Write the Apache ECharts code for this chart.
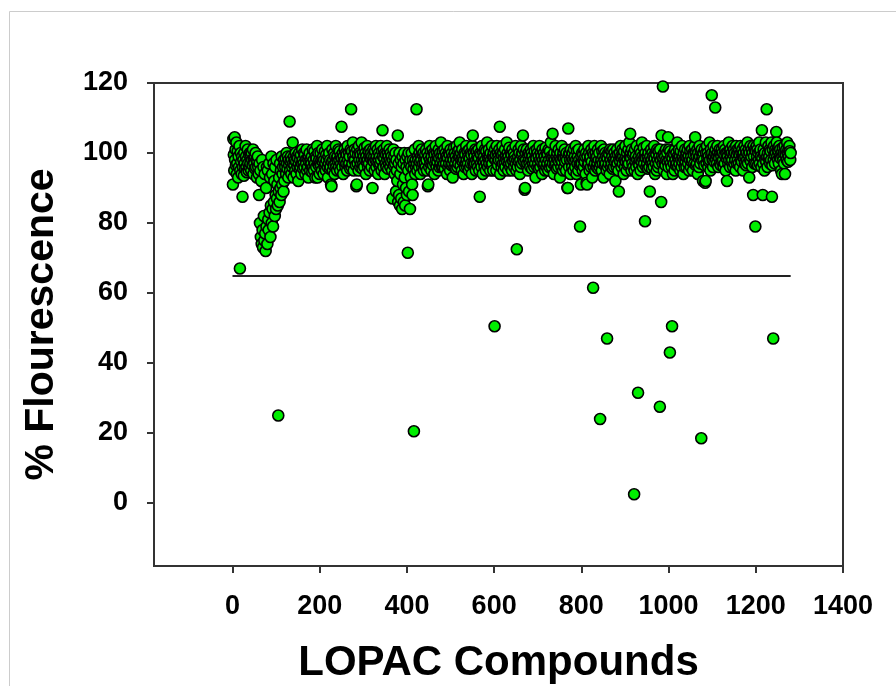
<!DOCTYPE html>
<html>
<head>
<meta charset="utf-8">
<script src="https://cdn.jsdelivr.net/npm/echarts@6/dist/echarts.min.js"></script>
<style>
html,body{margin:0;padding:0;background:#fff;}
#chart{width:896px;height:686px;}
</style>
</head>
<body>
<div id="chart"></div>
<script>
// % fluorescence for each LOPAC compound (index 1..1280)
const bandValues = [
97,104,99.5,95,92,98,101,96.5,103,94,97,100.5,93,99,96,102,98.5,95,100,97.5,94,99,101.5,96,98,93.5,100,97,95.5,102,99,96,94.5,98,101,97,95,99.5,96,100,
97,99.5,95,100,98,96.5,101,94,98.5,97,99,95.5,100,96,98,93,97.5,99,96,94,88,97,80,95,76,92,74,98,78,73,96,82,75,94,77,72,90,79,96,74,
95,81,78,97,83,93,76,85,99,80,94,84,79,97,86,92,82,96,88,84,98,87,91,85,96,89,93,86,97,90,95,88,99,91,94,96,89,98,92,97,
96,98.5,94,100,97,95.5,99,93,98,96.5,101,95,97.5,99,94,98,96,100.5,97,93,99,96.5,98,95,100,97.5,94,99,96,98.5,92,97,100,95.5,98,96,99.5,94,97,101,
98,95.5,97,100,96,99.5,94,98,97,101,95,98.5,96,93,99,97.5,100,95,98,96.5,97,99,94.5,101,96,98,95,100.5,97,93,99,96,98.5,102,95,97,100,96.5,98,94,
97,100,96.5,98,95,101,97.5,99,94,98,96,100.5,97,95,99.5,98,102,96,93,99,97,100,95.5,98,96,91,99,97.5,101,95,98,96.5,100,94,99,97,102,96,98.5,95,
99,97.5,101,96,98,100.5,95,99,97,102,98.5,96,100,94,99,97.5,101,98,96,100,97,99.5,95,102,98,96.5,100,97,99,95.5,101,98,96,100.5,97,103,99,95,98,101,
98,100,96.5,99,91,101,97,99.5,95,102,98,100,96,99.5,97,103,98,95.5,100,97,99,96,101.5,98,100,94,99,97.5,102,98,96,100.5,97,99,95,101,98.5,100,96,99,
90,98,101,97.5,99,95,100.5,98,102,96,99,97.5,101,94,98,100,96.5,99,97,102,98,95,100.5,97,99,96,101,98.5,94,100,97,99.5,96,102,98,100,95.5,99,97,101,
98,96,100,97.5,99,95,87,98,101,96.5,99,94,97,100,89,98,95,92,99,86,97,88,100,85,94,98,87,96,84,99,91,97,86,100,93,85,98,90,96,88,
99,87,95,100,89,97,84,98,93,96,100,91,88,98,95.5,99,97,101,94,98,96,100.5,97,95,99,98,102,96,100,97.5,94,99,98,101,96,99.5,97,100,95,98,
97,99.5,96,101,98,95,100,97.5,91,99,96,102,98,97,100.5,95,99,97,101,96.5,98,100,94,99.5,97,102,98,96,100,97.5,99,95,101,98.5,96,100,97,103,99,96,
98,100.5,96,99,97,101,95.5,98,100,97,99,94,102,98.5,96,100,97,99.5,95,101,98,96.5,100,97,93,99,98,101.5,96,100,97,99,95.5,102,98,96,100.5,97,99,101,
97,99,96.5,100,98,95,101,97.5,99,94,98,100,96,99.5,97,102,98,96,100.5,97,99,95,101,98.5,96,100,97,99.5,94,102,98,97,100,96.5,99,97,101,95,98,100.5,
97,99,96,101,98.5,95,88,100,97,99.5,96,102,98,94,100,97.5,99,96,101,98,95,100.5,97,103,99,96,98.5,101,97,99,95,100,98,96.5,102,97,99,95,100,98.5,
96,101,98,99.5,95,102,97,100,96.5,99,98,101,97.5,94,100,98,96,99.5,102,97,100,95,98.5,97,101,96,99,98,103,97.5,100,95,99,97,101.5,98,96,100,97,99.5,
95,101,98,97.5,100,96,99,98,102,97,95,100.5,98,96,99,101,97.5,100,94,98,96,102,99.5,97,100,95,98,101,97.5,99,90,100,98,96.5,101,97,99.5,95,100,98,
97,99.5,96,101,98,100,95.5,99,97,102,98,96,100.5,97,93,99,98.5,101,96,100,97,99,95.5,102,98,96,100,97.5,99,94,101,98,96.5,100,97,99,95,101.5,98,96,
100,97,99.5,95,101,98,96,100.5,97,103,99,96,98.5,101,97,99,94,100,98,96.5,102,97,99,95.5,100,98,96,101,97.5,99,93,100,98,96,102,97.5,99,95,100,98.5,
96,101,97.5,99,95,100,98,90,102,97,99.5,96,100,98,94,101,97.5,99,96,100,98,95,101,97.5,99,96,102,98,94,100.5,97,99,95,101,98,96.5,100,97,91,99,
97,100,95,99.5,98,96,101,97.5,99,94,100,98,91,99,96.5,102,97,100,95,98.5,99,96,101,97.5,93,100,98,96,99.5,102,97,95,100,98.5,96,99,97,101,95.5,98,
100,96,99.5,97,102,98,95,100.5,97,99,93,101,98,96.5,100,97,99,95,102,98.5,96,100,97,99.5,94,101,98,96,100.5,97,99,95.5,101,98,96,100,97.5,92,99,98,
96,101,97,99.5,95,89,98,100,97.5,102,99,96,98.5,101,97,99,94,100.5,98,96,102,97.5,99,95,100,98,96.5,101,97,103,99,96,100,98.5,95,101,97,99.5,96,100,
98,95,101,97.5,99,96,102,98,94,100.5,97,99,96.5,101,98,95,100,97.5,103,99,96,98,101.5,97,99,94,100,98.5,96,102,97,99,95.5,100,98,96,89,99,97.5,101,
98,95.5,100,97,99,96,102,98.5,94,100,97,99.5,95,101,98,96,100.5,97,99,93,101,98,96.5,100,99,97,102,98.5,95,100,97,99,96.5,101,98,94,100,97.5,99,96,
101,98,95,100.5,97,99,96,102,98.5,94,100,97,99.5,95,101,98,96.5,100,97,103,99,96,98.5,101,97,99,95,100.5,98,96,102,97.5,99,94,100,98,96,101,97.5,99,
96,100,98.5,101,97,99,95,102,98,100.5,96,99,97.5,101,98,95,100,99.5,97,102,98,100,96.5,99,97,101,94,100,98.5,96,102,99,97,100.5,95,101,98,99,92,100,
98,96.5,101,99,92,100,97,102,98.5,100,96,99,97.5,103,98,95,101,99.5,97,100,98,96,102,99,97.5,100,95,101,98,99.5,97,102,100,96,99,98.5,101,97,100,96.5,
99,101,97.5,100,98,96,102,99.5,97,101,95,100,98.5,92,100,99,97,103,98,100.5,96,101,99,97.5,100,98,102,96,99.5,101,97,100,98,95,102,99.5,97,101,98,100,
97,101,99.5,96,102,98,100,97.5,101,99,95,100,98.5,102,97,99,101,96.5,100,98,103,97,99.5,101,93,100,98,102,97.5,99,101,96,100,98.5,102,99,97,101,98,100.5,
97,102,99,101,96.5,100,98,103,97,100.5,101,99,96,102,98.5,100,97,101,99.5,95,100,98,103,97.5,101,99,96,100,102,98.5,99,101,97,100.5,98,103,99,96.5,101,100,
98,102,99.5,97,101,100,96.5,103,99,101,98,100.5,97,102,99,101,98.5,95,100,103,99,101.5,98,100,97,102,94,100,99.5,101,98,103,100,97.5,101,99,102,100.5,98,100
];

// compounds standing out from the band (compound number, % fluorescence)
const hitCompound = [1,5,17,23,105,131,138,195,227,250,272,284,344,379,402,416,422,448,521,551,567,601,613,652,666,670,734,769,770,797,812,827,843,859,886,912,921,930,946,957,980,983,984,987,999,1003,1008,1061,1075,1084,1099,1107,1134,1185,1194,1199,1214,1216,1225,1237,1240,1247,1260];
const hitValue    = [91,104.5,67,87.5,25,109,103,93,90.5,107.5,112.5,90.5,106.5,105,71.5,20.5,112.5,90.5,103,105,87.5,50.5,107.5,72.5,105,89.5,105.5,90,107,79,91.5,61.5,24,47,89,105.5,2.5,31.5,80.5,89,27.5,86,105,119,104.5,43,50.5,104.5,18.5,91.5,116.5,113,92,93,88,79,106.5,88,112.5,87.5,47,106,94];

// cut-off line
const cutoffValue = 65;
const cutoffFrom = 0;
const cutoffTo = 1280;

// axis tick labels
const xTicks = [0,200,400,600,800,1000,1200,1400];
const yTicks = [0,20,40,60,80,100,120];

const points = bandValues.map((v, i) => [i + 1, v]);
hitCompound.forEach((c, k) => { points[c - 1] = [c, hitValue[k]]; });

const chart = echarts.init(document.getElementById('chart'), null, {renderer: 'canvas'});
const FONT = '"Liberation Sans", Arial, sans-serif';
chart.setOption({
  animation: false,
  backgroundColor: '#ffffff',
  graphic: [{
    type: 'rect',
    shape: {x: 9.5, y: 11.5, width: 1000, height: 1000},
    style: {fill: 'none', stroke: '#cccccc', lineWidth: 1},
    silent: true,
    z: -10
  }],
  grid: {
    left: 154, right: 53, top: 83, bottom: 120,
    containLabel: false,
    outerBoundsMode: 'none',
    show: true, borderColor: '#333333', borderWidth: 2, backgroundColor: 'transparent'
  },
  xAxis: {
    type: 'value',
    min: -180, max: 1400,
    name: 'LOPAC Compounds',
    nameLocation: 'middle',
    nameGap: 76,
    nameTextStyle: {fontFamily: FONT, fontSize: 42, fontWeight: 'bold', color: '#000'},
    axisLine: {show: true, onZero: false, lineStyle: {color: '#333333', width: 2}},
    axisTick: {show: true, inside: false, length: 7, lineStyle: {color: '#333333', width: 2}, customValues: xTicks},
    axisLabel: {fontFamily: FONT, fontSize: 27, fontWeight: 'bold', color: '#000', margin: 27,
      customValues: xTicks, formatter: v => String(v)},
    splitLine: {show: false}
  },
  yAxis: {
    type: 'value',
    min: -18, max: 120,
    name: '% Flourescence',
    nameLocation: 'middle',
    nameGap: 92,
    nameTextStyle: {fontFamily: FONT, fontSize: 41, fontWeight: 'bold', color: '#000'},
    axisLine: {show: true, onZero: false, lineStyle: {color: '#333333', width: 2}},
    axisTick: {show: true, inside: false, length: 7, lineStyle: {color: '#333333', width: 2}, customValues: yTicks},
    axisLabel: {fontFamily: FONT, fontSize: 27, fontWeight: 'bold', color: '#000', margin: 26,
      customValues: yTicks, formatter: v => String(v)},
    splitLine: {show: false}
  },
  series: [{
    type: 'scatter',
    data: points,
    symbol: 'circle',
    symbolSize: 11,
    large: false,
    itemStyle: {color: '#00ee00', borderColor: '#000000', borderWidth: 1.6, opacity: 1},
    markLine: {
      silent: true,
      symbol: ['none', 'none'],
      label: {show: false},
      lineStyle: {color: '#222222', width: 2, type: 'solid'},
      data: [[{coord: [cutoffFrom, cutoffValue]}, {coord: [cutoffTo, cutoffValue]}]]
    },
    z: 3
  }]
});
</script>
</body>
</html>
